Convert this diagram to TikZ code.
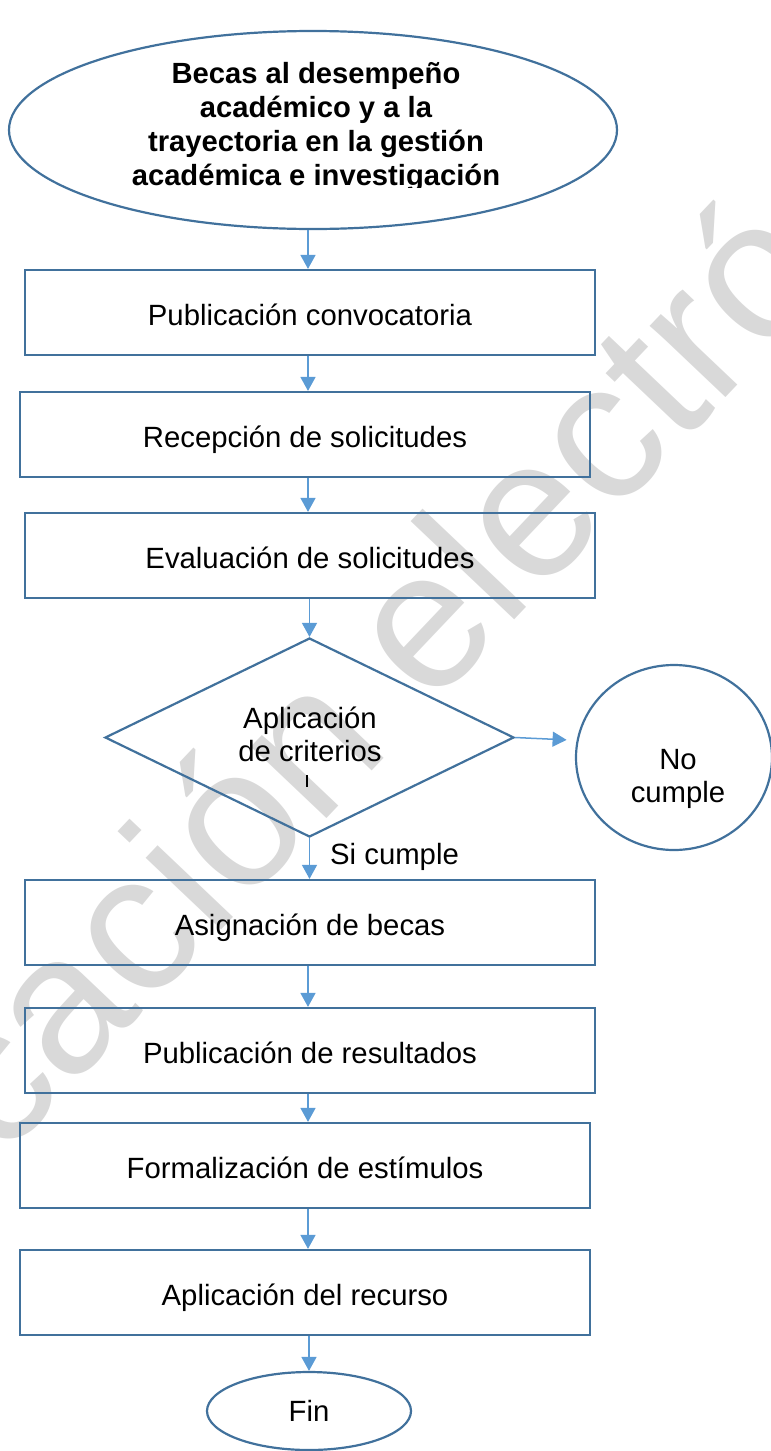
\documentclass[tikz,border=0pt]{standalone}
\usepackage{fontspec}
\setmainfont{Liberation Sans}
\usetikzlibrary{shapes.geometric,arrows.meta}
\definecolor{shapeblue}{HTML}{41719C}
\definecolor{arrowblue}{HTML}{5B9BD5}
\definecolor{wmgray}{HTML}{D9D9D9}
\begin{document}
\begin{tikzpicture}[x=1pt,y=-1pt,
  bodyfont/.style={font=\fontsize{29.3}{33}\selectfont},
  stepbox/.style={draw=shapeblue, line width=2.2pt, rectangle, minimum width=570pt,
    minimum height=85pt, inner sep=0pt, text height=26pt, text depth=0pt, bodyfont},
  terminal/.style={draw=shapeblue, line width=2.2pt, ellipse, inner sep=0pt, bodyfont},
  decision/.style={draw=shapeblue, line width=2.2pt, diamond, inner sep=0pt,
    minimum width=409pt, minimum height=199pt},
  plaintext/.style={inner sep=0pt, align=center, bodyfont},
  titletext/.style={inner sep=0pt, align=center, font=\bfseries\fontsize{29.2}{34}\selectfont},
  arr/.style={draw=arrowblue, line width=1.5pt, -{Triangle[length=14pt,width=15pt]}},
  wm/.style={anchor=base west, inner sep=0pt, rotate=46.5, text=wmgray,
    font=\fontsize{197}{197}\selectfont}]
\useasboundingbox (0,0) rectangle (771,1451);
\clip (0,0) rectangle (771,1451);

% axis of the vertical connectors
\coordinate (axis) at (308,0);

% watermark
\node[wm] (wmark) at (1,1162) {cación electró};

% start ellipse
\node[terminal, minimum width=608pt, minimum height=198pt] (start) at (313,130) {};
\begin{scope}
  \clip (0,0) rectangle (771,187.5);
  \node[titletext] (title) at (316,126.6)
    {Becas al desempeño\\académico y a la\\trayectoria en la gestión\\académica e investigación};
\end{scope}

% process boxes
\node[stepbox] (b1) at (310,312.5) {Publicación convocatoria};
\node[stepbox] (b2) at (305,434.5) {Recepción de solicitudes};
\node[stepbox] (b3) at (310,555.5) {Evaluación de solicitudes};

% decision
\node[decision] (dec) at (309.5,737.5) {};
\node[plaintext] (dectxt) at (310,734) {Aplicación\\de criterios};
\draw[line width=1.5pt] (307,775) -- (307,787);

% no cumple
\node[terminal, minimum width=196pt, minimum height=185pt] (no) at (674,757.5) {};
\node[plaintext] (notxt) at (678,779.3) {No\\cumple};

% si cumple label
\node[bodyfont, inner sep=0pt, anchor=base west] (si) at (330,864) {Si cumple};

\node[stepbox] (b4) at (310,922.5) {Asignación de becas};
\node[stepbox] (b5) at (310,1050.5) {Publicación de resultados};
\node[stepbox] (b6) at (305,1165.5) {Formalización de estímulos};
\node[stepbox] (b7) at (305,1292.5) {Aplicación del recurso};

% end
\node[terminal, minimum width=204pt, minimum height=78pt] (fin) at (309,1411) {Fin};

% connectors
\draw[arr] (start.south -| axis) -- (b1.north -| axis);
\draw[arr] (b1.south -| axis) -- (b2.north -| axis);
\draw[arr] (b2.south -| axis) -- (b3.north -| axis);
\draw[arr] (b3.south -| dec.north) -- (dec.north);
\draw[arr, shorten >=10pt] (dec.east) -- (no.170);
\draw[arr] (dec.south) -- (b4.north -| dec.south);
\draw[arr] (b4.south -| axis) -- (b5.north -| axis);
\draw[arr] (b5.south -| axis) -- (b6.north -| axis);
\draw[arr] (b6.south -| axis) -- (b7.north -| axis);
\draw[arr] (b7.south -| fin.north) -- (fin.north);
\end{tikzpicture}
\end{document}
